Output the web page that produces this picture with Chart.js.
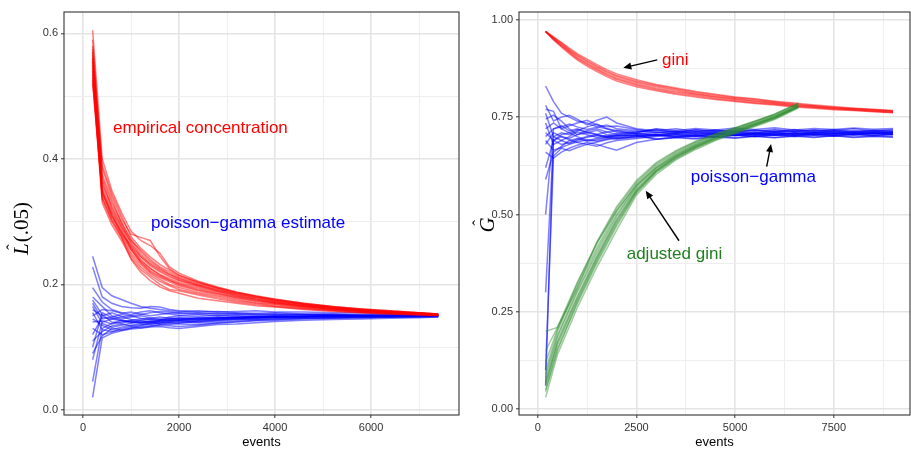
<!DOCTYPE html>
<html>
<head>
<meta charset="utf-8">
<script src="https://cdn.jsdelivr.net/npm/chart.js@4.4.1/dist/chart.umd.min.js"></script>
<style>
body { margin: 0; background: #fff; }
#wrap { position: relative; width: 911px; height: 449px; }
canvas { position: absolute; top: 0; }
</style>
</head>
<body>
<div id="wrap">
<canvas id="leftChart" width="460" height="449" style="left:0"></canvas>
<canvas id="rightChart" width="451" height="449" style="left:460px"></canvas>
</div>
<script>
// ---- left panel: L(.05) vs events ----
var leftX = [200, 400, 600, 800, 1000, 1200, 1400, 1600, 1800, 2000, 2400, 2800, 3200, 3600, 4000, 4600, 5200, 5800, 6400, 7000, 7400];

var empiricalLines = [
  [0.605, 0.40, 0.35, 0.315, 0.285, 0.27, 0.262, 0.25, 0.228, 0.218, 0.205, 0.196, 0.188, 0.182, 0.177, 0.17, 0.165, 0.161, 0.158, 0.155, 0.153],
  [0.58, 0.385, 0.34, 0.305, 0.28, 0.275, 0.27, 0.245, 0.225, 0.215, 0.203, 0.194, 0.186, 0.18, 0.176, 0.169, 0.164, 0.16, 0.157, 0.155, 0.153],
  [0.57, 0.37, 0.33, 0.30, 0.272, 0.252, 0.237, 0.226, 0.217, 0.21, 0.20, 0.192, 0.184, 0.179, 0.174, 0.168, 0.163, 0.16, 0.157, 0.154, 0.152],
  [0.565, 0.36, 0.325, 0.295, 0.265, 0.245, 0.232, 0.222, 0.214, 0.207, 0.198, 0.19, 0.183, 0.177, 0.173, 0.167, 0.162, 0.159, 0.156, 0.154, 0.152],
  [0.56, 0.355, 0.318, 0.29, 0.26, 0.24, 0.226, 0.216, 0.209, 0.203, 0.195, 0.188, 0.181, 0.176, 0.171, 0.166, 0.162, 0.158, 0.156, 0.153, 0.152],
  [0.555, 0.35, 0.315, 0.286, 0.258, 0.238, 0.225, 0.215, 0.207, 0.20, 0.191, 0.185, 0.179, 0.174, 0.17, 0.165, 0.161, 0.158, 0.155, 0.153, 0.151],
  [0.55, 0.345, 0.31, 0.28, 0.255, 0.235, 0.22, 0.211, 0.204, 0.198, 0.19, 0.183, 0.178, 0.173, 0.169, 0.164, 0.16, 0.157, 0.155, 0.153, 0.151],
  [0.545, 0.34, 0.305, 0.278, 0.25, 0.232, 0.218, 0.208, 0.20, 0.195, 0.187, 0.181, 0.176, 0.171, 0.168, 0.163, 0.159, 0.157, 0.154, 0.152, 0.151],
  [0.54, 0.335, 0.30, 0.274, 0.246, 0.228, 0.215, 0.205, 0.198, 0.192, 0.185, 0.179, 0.174, 0.17, 0.166, 0.162, 0.159, 0.156, 0.154, 0.152, 0.151],
  [0.53, 0.33, 0.295, 0.27, 0.242, 0.224, 0.212, 0.20, 0.192, 0.19, 0.183, 0.177, 0.172, 0.168, 0.165, 0.161, 0.158, 0.155, 0.153, 0.152, 0.151],
  [0.52, 0.345, 0.312, 0.282, 0.262, 0.244, 0.23, 0.22, 0.212, 0.206, 0.197, 0.189, 0.182, 0.177, 0.172, 0.166, 0.161, 0.158, 0.156, 0.154, 0.152],
  [0.575, 0.365, 0.322, 0.292, 0.268, 0.248, 0.234, 0.224, 0.216, 0.209, 0.199, 0.191, 0.185, 0.179, 0.174, 0.168, 0.163, 0.159, 0.156, 0.154, 0.152],
  [0.535, 0.338, 0.302, 0.276, 0.24, 0.22, 0.206, 0.196, 0.19, 0.186, 0.178, 0.174, 0.17, 0.166, 0.164, 0.16, 0.157, 0.155, 0.153, 0.151, 0.15],
  [0.59, 0.375, 0.335, 0.298, 0.27, 0.255, 0.24, 0.228, 0.22, 0.212, 0.202, 0.194, 0.187, 0.181, 0.175, 0.169, 0.164, 0.16, 0.157, 0.154, 0.152],
  [0.525, 0.35, 0.308, 0.284, 0.256, 0.236, 0.222, 0.213, 0.206, 0.201, 0.193, 0.186, 0.18, 0.175, 0.171, 0.165, 0.161, 0.157, 0.155, 0.153, 0.151],
  [0.56, 0.39, 0.345, 0.31, 0.276, 0.258, 0.244, 0.232, 0.223, 0.214, 0.204, 0.195, 0.187, 0.181, 0.176, 0.17, 0.165, 0.161, 0.158, 0.155, 0.153]
];

var pgLeftLines = [
  [0.245, 0.195, 0.182, 0.176, 0.17, 0.165, 0.162, 0.16, 0.158, 0.157, 0.158, 0.156, 0.157, 0.158, 0.156, 0.156, 0.155, 0.155, 0.154, 0.154, 0.153],
  [0.228, 0.18, 0.17, 0.165, 0.163, 0.162, 0.165, 0.164, 0.16, 0.158, 0.156, 0.157, 0.155, 0.154, 0.155, 0.153, 0.153, 0.152, 0.153, 0.152, 0.151],
  [0.195, 0.172, 0.16, 0.155, 0.152, 0.156, 0.158, 0.155, 0.153, 0.151, 0.152, 0.15, 0.152, 0.151, 0.15, 0.152, 0.151, 0.151, 0.15, 0.151, 0.15],
  [0.18, 0.165, 0.15, 0.145, 0.148, 0.15, 0.147, 0.145, 0.148, 0.15, 0.149, 0.151, 0.15, 0.149, 0.151, 0.15, 0.151, 0.15, 0.15, 0.151, 0.15],
  [0.175, 0.152, 0.14, 0.138, 0.142, 0.14, 0.138, 0.141, 0.143, 0.142, 0.14, 0.143, 0.145, 0.144, 0.146, 0.147, 0.147, 0.148, 0.148, 0.149, 0.149],
  [0.17, 0.145, 0.148, 0.152, 0.15, 0.146, 0.144, 0.143, 0.146, 0.145, 0.147, 0.146, 0.148, 0.149, 0.148, 0.149, 0.15, 0.149, 0.15, 0.15, 0.15],
  [0.165, 0.138, 0.132, 0.135, 0.138, 0.14, 0.142, 0.14, 0.139, 0.141, 0.139, 0.141, 0.143, 0.144, 0.145, 0.146, 0.147, 0.148, 0.148, 0.149, 0.149],
  [0.16, 0.15, 0.155, 0.149, 0.144, 0.142, 0.14, 0.137, 0.136, 0.138, 0.141, 0.143, 0.145, 0.146, 0.147, 0.148, 0.149, 0.149, 0.149, 0.15, 0.15],
  [0.155, 0.128, 0.125, 0.127, 0.13, 0.132, 0.134, 0.135, 0.134, 0.133, 0.135, 0.138, 0.14, 0.142, 0.143, 0.145, 0.146, 0.147, 0.148, 0.148, 0.149],
  [0.15, 0.16, 0.158, 0.154, 0.156, 0.153, 0.15, 0.152, 0.154, 0.155, 0.153, 0.154, 0.153, 0.152, 0.153, 0.152, 0.152, 0.151, 0.152, 0.151, 0.151],
  [0.145, 0.135, 0.128, 0.132, 0.135, 0.137, 0.136, 0.138, 0.14, 0.139, 0.142, 0.144, 0.145, 0.146, 0.148, 0.148, 0.149, 0.15, 0.15, 0.15, 0.15],
  [0.14, 0.142, 0.137, 0.14, 0.143, 0.145, 0.146, 0.148, 0.146, 0.147, 0.146, 0.148, 0.147, 0.148, 0.149, 0.149, 0.15, 0.15, 0.149, 0.15, 0.15],
  [0.13, 0.12, 0.124, 0.13, 0.133, 0.131, 0.133, 0.136, 0.138, 0.137, 0.136, 0.139, 0.141, 0.143, 0.144, 0.146, 0.147, 0.147, 0.148, 0.149, 0.149],
  [0.12, 0.148, 0.145, 0.142, 0.139, 0.143, 0.145, 0.144, 0.142, 0.144, 0.146, 0.147, 0.149, 0.148, 0.149, 0.149, 0.15, 0.15, 0.15, 0.15, 0.15],
  [0.11, 0.125, 0.134, 0.137, 0.134, 0.135, 0.139, 0.141, 0.142, 0.143, 0.144, 0.146, 0.147, 0.148, 0.148, 0.149, 0.149, 0.15, 0.15, 0.15, 0.151],
  [0.09, 0.118, 0.13, 0.128, 0.131, 0.134, 0.137, 0.139, 0.141, 0.142, 0.144, 0.145, 0.146, 0.147, 0.148, 0.149, 0.149, 0.149, 0.15, 0.15, 0.15],
  [0.045, 0.13, 0.138, 0.143, 0.141, 0.139, 0.141, 0.143, 0.144, 0.146, 0.145, 0.147, 0.147, 0.148, 0.149, 0.149, 0.15, 0.15, 0.15, 0.151, 0.15],
  [0.02, 0.115, 0.122, 0.126, 0.129, 0.13, 0.132, 0.133, 0.131, 0.13, 0.133, 0.136, 0.137, 0.139, 0.141, 0.143, 0.144, 0.145, 0.146, 0.147, 0.148],
  [0.08, 0.14, 0.145, 0.148, 0.15, 0.152, 0.155, 0.157, 0.156, 0.154, 0.155, 0.153, 0.154, 0.153, 0.152, 0.152, 0.152, 0.151, 0.151, 0.151, 0.151],
  [0.10, 0.155, 0.147, 0.143, 0.14, 0.138, 0.14, 0.143, 0.145, 0.144, 0.143, 0.145, 0.147, 0.147, 0.148, 0.149, 0.15, 0.15, 0.15, 0.15, 0.15]
];

var leftXTicks = [0, 1000, 2000, 3000, 4000, 5000, 6000, 7000];
var leftXLabels = [0, 2000, 4000, 6000];
var leftYTicks = [0, 0.1, 0.2, 0.3, 0.4, 0.5, 0.6];
var leftYLabels = [0, 0.2, 0.4, 0.6];

// ---- right panel: G vs events ----
var rightX = [200, 400, 600, 800, 1000, 1250, 1500, 1750, 2000, 2500, 3000, 3500, 4000, 4500, 5000, 5500, 6000, 6500, 7000, 7500, 8000, 8500, 9000];

var giniLines = [
  [0.97, 0.948, 0.93, 0.913, 0.897, 0.881, 0.867, 0.854, 0.843, 0.828, 0.818, 0.809, 0.802, 0.795, 0.79, 0.785, 0.781, 0.776, 0.773, 0.769, 0.767, 0.764, 0.761],
  [0.97, 0.95, 0.932, 0.916, 0.90, 0.885, 0.871, 0.858, 0.847, 0.832, 0.821, 0.812, 0.805, 0.798, 0.792, 0.787, 0.783, 0.778, 0.775, 0.771, 0.768, 0.765, 0.762],
  [0.97, 0.951, 0.935, 0.919, 0.903, 0.888, 0.874, 0.861, 0.85, 0.835, 0.824, 0.815, 0.808, 0.801, 0.795, 0.79, 0.785, 0.78, 0.776, 0.772, 0.769, 0.766, 0.763],
  [0.97, 0.953, 0.937, 0.921, 0.907, 0.892, 0.878, 0.865, 0.854, 0.839, 0.828, 0.819, 0.81, 0.803, 0.797, 0.792, 0.787, 0.782, 0.778, 0.774, 0.771, 0.768, 0.765],
  [0.97, 0.954, 0.94, 0.924, 0.91, 0.895, 0.881, 0.868, 0.857, 0.842, 0.831, 0.822, 0.813, 0.806, 0.80, 0.795, 0.789, 0.784, 0.779, 0.775, 0.772, 0.769, 0.766],
  [0.97, 0.956, 0.942, 0.927, 0.913, 0.899, 0.885, 0.872, 0.861, 0.846, 0.834, 0.825, 0.816, 0.809, 0.802, 0.797, 0.791, 0.786, 0.781, 0.777, 0.773, 0.77, 0.767]
];

var pgRightLines = [
  [0.83, 0.79, 0.76, 0.75, 0.74, 0.735, 0.725, 0.72, 0.716, 0.712, 0.716, 0.71, 0.718, 0.712, 0.715, 0.709, 0.716, 0.712, 0.717, 0.711, 0.715, 0.713, 0.716],
  [0.78, 0.74, 0.75, 0.755, 0.745, 0.73, 0.742, 0.75, 0.735, 0.72, 0.715, 0.72, 0.713, 0.717, 0.711, 0.716, 0.713, 0.718, 0.712, 0.716, 0.711, 0.715, 0.712],
  [0.77, 0.765, 0.72, 0.728, 0.735, 0.742, 0.73, 0.725, 0.727, 0.718, 0.712, 0.707, 0.712, 0.706, 0.711, 0.705, 0.71, 0.706, 0.712, 0.707, 0.711, 0.708, 0.712],
  [0.76, 0.70, 0.71, 0.705, 0.715, 0.725, 0.732, 0.72, 0.712, 0.708, 0.71, 0.714, 0.707, 0.712, 0.704, 0.709, 0.713, 0.706, 0.71, 0.714, 0.707, 0.711, 0.709],
  [0.745, 0.755, 0.74, 0.72, 0.705, 0.71, 0.716, 0.705, 0.70, 0.704, 0.694, 0.699, 0.696, 0.701, 0.697, 0.702, 0.698, 0.703, 0.699, 0.702, 0.698, 0.701, 0.699],
  [0.735, 0.68, 0.69, 0.70, 0.712, 0.705, 0.698, 0.702, 0.708, 0.712, 0.719, 0.712, 0.717, 0.713, 0.718, 0.714, 0.719, 0.713, 0.717, 0.715, 0.72, 0.715, 0.718],
  [0.72, 0.735, 0.72, 0.71, 0.70, 0.69, 0.695, 0.698, 0.693, 0.70, 0.705, 0.699, 0.703, 0.698, 0.704, 0.701, 0.705, 0.70, 0.704, 0.701, 0.706, 0.702, 0.705],
  [0.71, 0.69, 0.68, 0.685, 0.693, 0.70, 0.705, 0.70, 0.696, 0.698, 0.702, 0.706, 0.701, 0.707, 0.703, 0.708, 0.704, 0.709, 0.705, 0.708, 0.705, 0.709, 0.706],
  [0.70, 0.72, 0.728, 0.715, 0.72, 0.712, 0.706, 0.712, 0.715, 0.707, 0.704, 0.71, 0.713, 0.708, 0.712, 0.707, 0.711, 0.714, 0.709, 0.713, 0.71, 0.713, 0.71],
  [0.69, 0.665, 0.672, 0.68, 0.686, 0.692, 0.688, 0.694, 0.698, 0.702, 0.693, 0.697, 0.694, 0.699, 0.696, 0.70, 0.697, 0.701, 0.698, 0.702, 0.699, 0.701, 0.699],
  [0.68, 0.71, 0.70, 0.692, 0.685, 0.68, 0.675, 0.684, 0.69, 0.695, 0.70, 0.704, 0.70, 0.706, 0.702, 0.707, 0.703, 0.708, 0.704, 0.707, 0.705, 0.708, 0.705],
  [0.66, 0.645, 0.66, 0.67, 0.678, 0.685, 0.68, 0.672, 0.665, 0.685, 0.693, 0.698, 0.702, 0.699, 0.704, 0.70, 0.705, 0.702, 0.706, 0.703, 0.707, 0.704, 0.706],
  [0.62, 0.69, 0.70, 0.695, 0.705, 0.715, 0.72, 0.712, 0.706, 0.71, 0.72, 0.715, 0.721, 0.717, 0.722, 0.718, 0.723, 0.717, 0.721, 0.718, 0.722, 0.719, 0.721],
  [0.59, 0.66, 0.675, 0.69, 0.695, 0.688, 0.692, 0.697, 0.702, 0.705, 0.703, 0.706, 0.704, 0.707, 0.705, 0.708, 0.706, 0.708, 0.707, 0.709, 0.707, 0.709, 0.708],
  [0.50, 0.72, 0.725, 0.732, 0.725, 0.718, 0.724, 0.73, 0.72, 0.715, 0.71, 0.714, 0.711, 0.716, 0.713, 0.717, 0.712, 0.716, 0.714, 0.718, 0.713, 0.716, 0.714],
  [0.30, 0.69, 0.705, 0.71, 0.718, 0.71, 0.705, 0.70, 0.703, 0.708, 0.705, 0.709, 0.707, 0.71, 0.708, 0.711, 0.708, 0.71, 0.711, 0.709, 0.712, 0.71, 0.711],
  [0.10, 0.65, 0.67, 0.664, 0.672, 0.68, 0.686, 0.692, 0.696, 0.70, 0.704, 0.699, 0.703, 0.70, 0.704, 0.701, 0.705, 0.702, 0.706, 0.703, 0.705, 0.703, 0.706],
  [0.06, 0.70, 0.69, 0.682, 0.69, 0.698, 0.703, 0.698, 0.704, 0.702, 0.706, 0.701, 0.707, 0.703, 0.708, 0.704, 0.709, 0.705, 0.708, 0.706, 0.709, 0.707, 0.709]
];

var adjX = [200, 500, 1000, 1500, 2000, 2500, 3000, 3500, 4000, 4500, 5000, 5500, 6000, 6600];
var adjGiniLines = [
  [0.03, 0.14, 0.26, 0.365, 0.46, 0.55, 0.603, 0.64, 0.667, 0.69, 0.708, 0.726, 0.744, 0.773],
  [0.05, 0.155, 0.27, 0.375, 0.47, 0.555, 0.608, 0.643, 0.67, 0.692, 0.71, 0.728, 0.746, 0.775],
  [0.06, 0.165, 0.28, 0.385, 0.48, 0.56, 0.612, 0.647, 0.673, 0.695, 0.712, 0.73, 0.748, 0.776],
  [0.07, 0.175, 0.29, 0.392, 0.488, 0.565, 0.615, 0.65, 0.676, 0.698, 0.715, 0.732, 0.75, 0.778],
  [0.08, 0.185, 0.30, 0.40, 0.495, 0.57, 0.619, 0.653, 0.679, 0.70, 0.717, 0.734, 0.752, 0.779],
  [0.09, 0.19, 0.305, 0.408, 0.50, 0.573, 0.622, 0.656, 0.681, 0.702, 0.719, 0.736, 0.754, 0.781],
  [0.10, 0.20, 0.315, 0.415, 0.508, 0.578, 0.626, 0.659, 0.684, 0.704, 0.721, 0.738, 0.756, 0.783],
  [0.12, 0.205, 0.322, 0.425, 0.515, 0.583, 0.63, 0.662, 0.686, 0.706, 0.722, 0.739, 0.757, 0.785],
  [0.15, 0.21, 0.31, 0.43, 0.52, 0.587, 0.633, 0.664, 0.688, 0.707, 0.723, 0.74, 0.758, 0.786],
  [0.20, 0.21, 0.325, 0.428, 0.51, 0.575, 0.62, 0.652, 0.677, 0.698, 0.716, 0.733, 0.751, 0.78],
  [0.045, 0.15, 0.275, 0.38, 0.475, 0.558, 0.61, 0.645, 0.672, 0.694, 0.712, 0.729, 0.747, 0.776],
  [0.065, 0.17, 0.285, 0.39, 0.485, 0.562, 0.613, 0.648, 0.674, 0.696, 0.713, 0.731, 0.749, 0.777]
];

var rightXTicks = [0, 1250, 2500, 3750, 5000, 6250, 7500, 8750];
var rightXLabels = [0, 2500, 5000, 7500];
var rightYTicks = [0, 0.125, 0.25, 0.375, 0.5, 0.625, 0.75, 0.875, 1];
var rightYLabels = [0, 0.25, 0.5, 0.75, 1];

var sans = '"Liberation Sans", Arial, sans-serif';
var serif = '"Liberation Serif", "Times New Roman", serif';

function lineSets(xs, group, color) {
  return group.map(function (ys) {
    return {
      data: ys.map(function (y, i) { return {x: xs[i], y: y}; }),
      borderColor: color, borderWidth: 1.5, pointRadius: 0, tension: 0, fill: false
    };
  });
}

function isIn(list, v) {
  return list.some(function (m) { return Math.abs(m - v) < 1e-9; });
}

function axis(ticks, labels, min, max, fmt, horizontal) {
  return {
    type: 'linear', min: min, max: max,
    afterBuildTicks: function (s) { s.ticks = ticks.map(function (v) { return {value: v}; }); },
    afterFit: function (s) { if (horizontal) s.height = 34; },
    border: {display: false},
    grid: {
      color: function (c) { return c.tick && isIn(labels, c.tick.value) ? '#e4e4e4' : '#eeeeee'; },
      lineWidth: function (c) { return c.tick && isIn(labels, c.tick.value) ? 1.6 : 1; },
      tickColor: function (c) { return c.tick && isIn(labels, c.tick.value) ? '#333333' : 'rgba(0,0,0,0)'; },
      tickLength: 3, tickWidth: 1
    },
    ticks: {
      padding: 3, color: '#333333', font: {family: sans, size: 11},
      maxRotation: 0, autoSkip: false,
      callback: function (v) { return isIn(labels, v) ? fmt(v) : ''; }
    }
  };
}

function drawArrow(ctx, x1, y1, x2, y2) {
  var ang = Math.atan2(y2 - y1, x2 - x1), len = 8, hw = 3.5;
  ctx.strokeStyle = '#000'; ctx.fillStyle = '#000'; ctx.lineWidth = 1.4;
  ctx.beginPath(); ctx.moveTo(x1, y1);
  ctx.lineTo(x2 - Math.cos(ang) * len * 0.8, y2 - Math.sin(ang) * len * 0.8); ctx.stroke();
  ctx.beginPath();
  ctx.moveTo(x2, y2);
  ctx.lineTo(x2 - Math.cos(ang) * len - Math.sin(ang) * hw, y2 - Math.sin(ang) * len + Math.cos(ang) * hw);
  ctx.lineTo(x2 - Math.cos(ang) * len + Math.sin(ang) * hw, y2 - Math.sin(ang) * len - Math.cos(ang) * hw);
  ctx.closePath(); ctx.fill();
}

function decor(notes, arrows, yTitle) {
  return {
    id: 'decor',
    afterDraw: function (chart) {
      var ctx = chart.ctx, a = chart.chartArea, sx = chart.scales.x, sy = chart.scales.y;
      ctx.save();
      ctx.strokeStyle = '#333333'; ctx.lineWidth = 1.1;
      ctx.strokeRect(a.left, a.top, a.right - a.left, a.bottom - a.top);

      ctx.font = '17px ' + sans; ctx.textBaseline = 'alphabetic'; ctx.textAlign = 'left';
      notes.forEach(function (n) {
        ctx.fillStyle = n.color;
        ctx.fillText(n.text, sx.getPixelForValue(n.x), sy.getPixelForValue(n.y));
      });
      arrows.forEach(function (r) {
        drawArrow(ctx, sx.getPixelForValue(r[0]), sy.getPixelForValue(r[1]),
          sx.getPixelForValue(r[2]), sy.getPixelForValue(r[3]));
      });

      ctx.fillStyle = '#000'; ctx.font = '13px ' + sans;
      ctx.textAlign = 'center'; ctx.textBaseline = 'middle';
      ctx.fillText('events', (a.left + a.right) / 2, 442);

      // rotated y title: italic symbol with hat, then upright part
      ctx.translate(yTitle.px, yTitle.py);
      ctx.rotate(-Math.PI / 2);
      ctx.textAlign = 'left'; ctx.textBaseline = 'alphabetic';
      ctx.font = 'italic 21px ' + serif;
      var w1 = ctx.measureText(yTitle.sym).width;
      ctx.font = '21px ' + serif;
      var w2 = ctx.measureText(yTitle.rest).width;
      var x0 = -(w1 + w2) / 2;
      ctx.font = 'italic 21px ' + serif;
      ctx.fillText(yTitle.sym, x0, 7);
      ctx.font = '17px ' + serif;
      ctx.textAlign = 'center';
      ctx.fillText('\u02C6', x0 + w1 / 2 + 2, -3);
      ctx.font = '21px ' + serif; ctx.textAlign = 'left';
      ctx.fillText(yTitle.rest, x0 + w1 + 1, 7);
      ctx.restore();
    }
  };
}

function baseOptions(xAxis, yAxis, yWidth) {
  yAxis.afterFit = function (s) { s.width = yWidth; };
  return {
    responsive: false, devicePixelRatio: 1, animation: false, events: [],
    layout: {padding: {top: 12, right: 1, bottom: 0, left: 0}},
    plugins: {legend: {display: false}, tooltip: {enabled: false}},
    scales: {x: xAxis, y: yAxis}
  };
}

new Chart(document.getElementById('leftChart'), {
  type: 'line',
  data: {
    datasets: lineSets(leftX, empiricalLines, 'rgba(255,0,0,0.5)')
      .concat(lineSets(leftX, pgLeftLines, 'rgba(0,0,255,0.5)'))
  },
  options: baseOptions(
    axis(leftXTicks, leftXLabels, -396, 7833, function (v) { return String(v); }, true),
    axis(leftYTicks, leftYLabels, -0.008, 0.634, function (v) { return v.toFixed(1); }, false),
    64),
  plugins: [decor(
    [{text: 'empirical concentration', x: 625, y: 0.4406, color: '#ff0000'},
     {text: 'poisson\u2212gamma estimate', x: 1417, y: 0.2905, color: '#0000ff'}],
    [],
    {px: 21, py: 229, sym: 'L', rest: '(.05)'})]
});

new Chart(document.getElementById('rightChart'), {
  type: 'line',
  data: {
    datasets: lineSets(adjX, adjGiniLines, 'rgba(46,139,46,0.45)')
      .concat(lineSets(rightX, pgRightLines, 'rgba(0,0,255,0.5)'))
      .concat(lineSets(rightX, giniLines, 'rgba(255,0,0,0.5)'))
  },
  options: baseOptions(
    axis(rightXTicks, rightXLabels, -474, 9430, function (v) { return String(v); }, true),
    axis(rightYTicks, rightYLabels, -0.015, 1.02, function (v) { return v.toFixed(2); }, false),
    59),
  plugins: [decor(
    [{text: 'gini', x: 3148, y: 0.884, color: '#ff0000'},
     {text: 'poisson\u2212gamma', x: 3875, y: 0.584, color: '#0000ff'},
     {text: 'adjusted gini', x: 2254, y: 0.3846, color: '#1f7f1f'}],
    [[3029, 0.897, 2168, 0.8766], [5800, 0.6226, 5910, 0.681], [3579, 0.4325, 2736, 0.561]],
    {px: 27, py: 225, sym: 'G', rest: ''})]
});
</script>
</body>
</html>
